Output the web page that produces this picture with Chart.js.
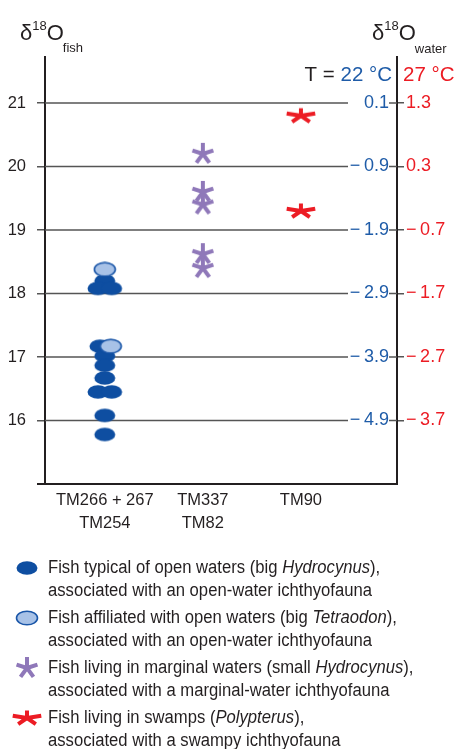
<!DOCTYPE html>
<html>
<head>
<meta charset="utf-8">
<script src="https://cdn.jsdelivr.net/npm/chart.js@4.4.0/dist/chart.umd.min.js"></script>
<style>
  body { margin: 0; background: #fff; }
  #wrap { position: relative; width: 457px; height: 749px; overflow: hidden; }
  #legend { position: absolute; left: 0; top: 556px; width: 457px;
    font-family: 'Liberation Sans', Arial, sans-serif;
    font-size: 18px; color: #231f20; }
  .item { position: relative; padding-left: 48px; line-height: 23px; margin-bottom: 4px; }
  .item span { display: inline-block; transform: scaleX(0.925); transform-origin: 0 0; white-space: nowrap; }
  .item canvas { position: absolute; }
</style>
</head>
<body>
<div id="wrap">
  <canvas id="chart" width="457" height="749"></canvas>
  <div id="legend"></div>
</div>
<script>
const FONT = "'Liberation Sans', Arial, sans-serif";

// categories on the x axis
const categories = [["TM266 + 267", "TM254"], ["TM337", "TM82"], ["TM90"]];
// left axis (fish) and the two water scales
const fishTicks = [16, 17, 18, 19, 20, 21];
const water22Labels = ["\u2212\u20094.9", "\u2212\u20093.9", "\u2212\u20092.9", "\u2212\u20091.9", "\u2212\u20090.9", "0.1"];
const water27Labels = ["\u2212\u20093.7", "\u2212\u20092.7", "\u2212\u20091.7", "\u2212\u20090.7", "0.3", "1.3"];

// open waters, big Hydrocynus
const openX = [0, -0.07, 0.07, -0.05, 0, 0, 0, -0.07, 0.07, 0, 0];
const openY = [18.2, 18.08, 18.08, 17.17, 17.02, 16.87, 16.67, 16.45, 16.45, 16.08, 15.78];
// affiliated with open waters, big Tetraodon
const affilX = [0, 0.06];
const affilY = [18.38, 17.17];
// marginal waters, small Hydrocynus
const marginalX = [1, 1, 1, 1, 1];
const marginalY = [20.2, 19.6, 19.4, 18.62, 18.4];
// swamps, Polypterus
const swampX = [2, 2];
const swampY = [20.8, 19.3];

const legendItems = [
  { kind: "open", html: "Fish typical of open waters (big <i>Hydrocynus</i>),<br>associated with an open-water ichthyofauna" },
  { kind: "affil", html: "Fish affiliated with open waters (big <i>Tetraodon</i>),<br>associated with an open-water ichthyofauna" },
  { kind: "marginal", html: "Fish living in marginal waters (small <i>Hydrocynus</i>),<br>associated with a marginal-water ichthyofauna" },
  { kind: "swamp", html: "Fish living in swamps (<i>Polypterus</i>),<br>associated with a swampy ichthyofauna" }
];

function makeMarker(kind) {
  const c = document.createElement("canvas");
  let w = 24, h = 16;
  if (kind === "marginal") { w = 26; h = 26; }
  if (kind === "swamp") { w = 34; h = 18; }
  c.width = w; c.height = h;
  const g = c.getContext("2d");
  if (kind === "open" || kind === "affil") {
    g.beginPath();
    g.ellipse(w / 2, h / 2, 10.5, 6.8, 0, 0, Math.PI * 2);
    g.fillStyle = kind === "open" ? "#0e4ea1" : "#a8c2e7";
    g.fill();
    if (kind === "affil") { g.lineWidth = 1.6; g.strokeStyle = "#1a56a8"; g.stroke(); }
  } else {
    const rx = kind === "swamp" ? 15 : 11;
    const ry = kind === "swamp" ? 7.5 : 11;
    g.strokeStyle = kind === "swamp" ? "#ec1c24" : "#8f78b9";
    g.lineWidth = 4;
    g.beginPath();
    for (let k = 0; k < 5; k++) {
      const a = (-90 + k * 72) * Math.PI / 180;
      g.moveTo(w / 2, h / 2);
      g.lineTo(w / 2 + rx * Math.cos(a), h / 2 + ry * Math.sin(a));
    }
    g.stroke();
  }
  return c;
}

const markers = {
  open: makeMarker("open"),
  affil: makeMarker("affil"),
  marginal: makeMarker("marginal"),
  swamp: makeMarker("swamp")
};

function pts(xs, ys) { return xs.map((x, i) => ({ x: x, y: ys[i] })); }

// gridlines, blue scale and the titles
const decor = {
  id: "decor",
  beforeDatasetsDraw(chart) {
    const { ctx, chartArea, scales } = chart;
    ctx.save();
    ctx.strokeStyle = "#555";
    ctx.lineWidth = 1.5;
    ctx.font = "18px " + FONT;
    ctx.textAlign = "right";
    ctx.textBaseline = "middle";
    ctx.fillStyle = "#1f5ca8";
    fishTicks.forEach((v, i) => {
      const py = scales.y.getPixelForValue(v);
      ctx.beginPath();
      ctx.moveTo(chartArea.left, py);
      ctx.lineTo(chartArea.right - 49, py);
      ctx.moveTo(chartArea.right - 8, py);
      ctx.lineTo(chartArea.right, py);
      ctx.stroke();
      ctx.fillText(water22Labels[i], chartArea.right - 8, py);
    });
    ctx.restore();
  },
  afterDraw(chart) {
    const ctx = chart.ctx;
    ctx.save();
    ctx.textBaseline = "alphabetic";
    ctx.textAlign = "left";
    function runs(x, list) {
      list.forEach(r => {
        ctx.font = r.size + "px " + FONT;
        ctx.fillStyle = r.color || "#231f20";
        ctx.fillText(r.t, x + (r.dx || 0), r.base);
        x += ctx.measureText(r.t).width + (r.dx || 0);
      });
    }
    runs(20, [{ t: "\u03b4", size: 22, base: 40 }, { t: "18", size: 13, base: 30 },
              { t: "O", size: 22, base: 40 }, { t: "fish", size: 13, base: 52, dx: -1 }]);
    runs(372, [{ t: "\u03b4", size: 22, base: 40 }, { t: "18", size: 13, base: 30 },
               { t: "O", size: 22, base: 40 }, { t: "water", size: 13, base: 53, dx: -1 }]);
    ctx.font = "20.5px " + FONT;
    ctx.textAlign = "right";
    ctx.fillStyle = "#1f5ca8";
    ctx.fillText("22 \u00b0C", 392, 81);
    const w22 = ctx.measureText("22 \u00b0C").width;
    ctx.fillStyle = "#231f20";
    ctx.fillText("T = ", 392 - w22, 81);
    ctx.textAlign = "left";
    ctx.fillStyle = "#ec1c24";
    ctx.fillText("27 \u00b0C", 403, 81);
    ctx.restore();
  }
};

const yMin = 15, yMax = 21.725;
const allTicks = s => { s.ticks = [15].concat(fishTicks).map(v => ({ value: v })); };

new Chart(document.getElementById("chart"), {
  type: "scatter",
  data: {
    datasets: [
      { label: "open", data: pts(openX, openY), pointStyle: markers.open, pointRadius: 10, order: 1 },
      { label: "affil", data: pts(affilX, affilY), pointStyle: markers.affil, pointRadius: 10, order: 0 },
      { label: "marginal", data: pts(marginalX, marginalY), pointStyle: markers.marginal, pointRadius: 10, order: 2 },
      { label: "swamp", data: pts(swampX, swampY), pointStyle: markers.swamp, pointRadius: 10, order: 3 }
    ]
  },
  options: {
    responsive: false,
    animation: false,
    layout: { padding: { top: 57, left: 0, right: 0, bottom: 0 } },
    plugins: { legend: { display: false }, tooltip: { enabled: false } },
    scales: {
      x: {
        type: "linear", min: -0.61, max: 2.98,
        afterBuildTicks: s => { s.ticks = categories.map((c, i) => ({ value: i })); },
        afterFit: s => { s.height = 749 - 484; },
        grid: { display: false, drawTicks: false },
        border: { color: "#231f20", width: 2 },
        ticks: {
          callback: (v, i) => categories[i],
          font: { family: FONT, size: 16.5, lineHeight: 1.4 }, color: "#231f20",
          padding: 5, maxRotation: 0, autoSkip: false
        }
      },
      y: {
        position: "left", min: yMin, max: yMax,
        afterBuildTicks: allTicks,
        afterFit: s => { s.width = 45; },
        grid: {
          drawOnChartArea: false, tickLength: 8,
          color: c => c.tick && c.tick.value === 15 ? "#231f20" : "#555",
          lineWidth: c => c.tick && c.tick.value === 15 ? 2 : 1.5
        },
        border: { color: "#231f20", width: 2 },
        ticks: {
          callback: v => v === 15 ? "" : String(v),
          padding: 11, font: { family: FONT, size: 16.5 }, color: "#231f20"
        }
      },
      yw: {
        position: "right", min: yMin, max: yMax,
        afterBuildTicks: allTicks,
        afterFit: s => { s.width = 457 - 397; },
        grid: {
          drawOnChartArea: false, tickLength: 7,
          color: c => c.tick && c.tick.value === 15 ? "rgba(0,0,0,0)" : "#555",
          lineWidth: 1.5
        },
        border: { color: "#231f20", width: 2 },
        ticks: {
          callback: v => { const i = fishTicks.indexOf(v); return i < 0 ? "" : water27Labels[i]; },
          padding: 2, font: { family: FONT, size: 18 }, color: "#ec1c24"
        }
      }
    }
  },
  plugins: [decor]
});

// legend below the plot
const legend = document.getElementById("legend");
legendItems.forEach(item => {
  const div = document.createElement("div");
  div.className = "item";
  div.innerHTML = "<span>" + item.html + "</span>";
  const m = makeMarker(item.kind);
  m.style.left = (27 - m.width / 2) + "px";
  m.style.top = (11.5 - m.height / 2) + "px";
  div.insertBefore(m, div.firstChild);
  legend.appendChild(div);
});
</script>
</body>
</html>
